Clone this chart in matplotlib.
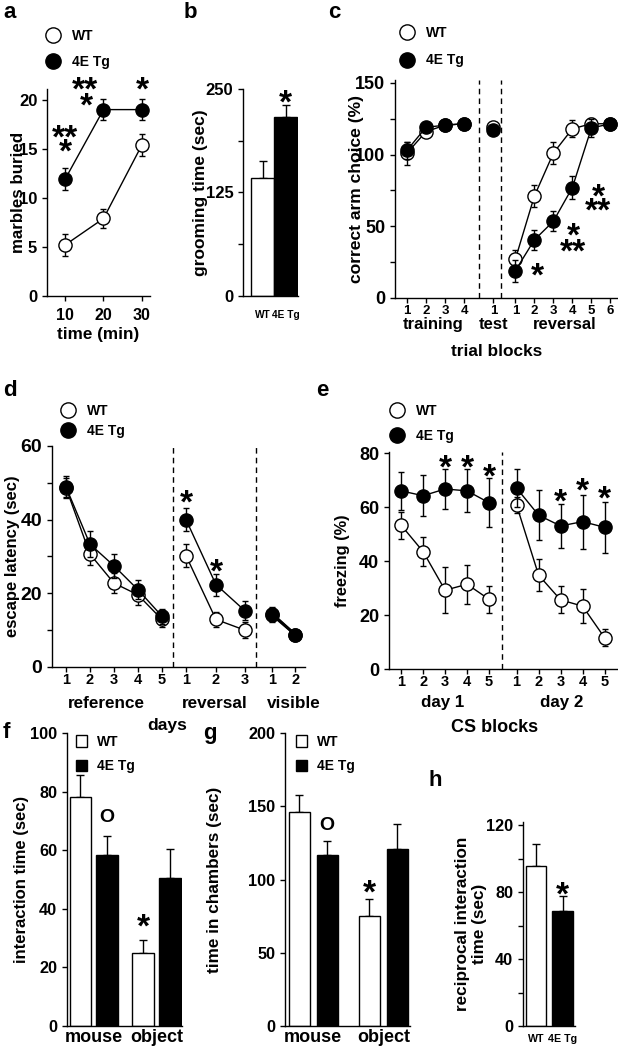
import matplotlib
matplotlib.use('Agg')
import matplotlib.pyplot as plt
from matplotlib.lines import Line2D
from matplotlib.patches import Patch
from matplotlib.ticker import MultipleLocator

plt.rcParams['font.family'] = ['Liberation Sans', 'DejaVu Sans']
plt.rcParams['font.weight'] = 'bold'
plt.rcParams['axes.labelweight'] = 'bold'
plt.rcParams['axes.linewidth'] = 1.0
for k in ('xtick', 'ytick'):
    plt.rcParams[k + '.major.size'] = 3.5
    plt.rcParams[k + '.minor.size'] = 3.5
    plt.rcParams[k + '.major.width'] = 1.0
    plt.rcParams[k + '.minor.width'] = 1.0

W, H = 618, 1050

# ---- data ----
# a: marble burying
a_time = [10, 20, 30]
a_wt = [5.2, 7.9, 15.4]
a_wt_err = [1.1, 1.0, 1.1]
a_tg = [11.9, 19.0, 19.0]
a_tg_err = [1.1, 1.1, 1.1]

# b: grooming
b_groups = ['WT', '4E Tg']
b_vals = [143, 216]
b_err = [20, 15]

# c: Y maze (training / test / reversal)
c_train_x = [1, 2, 3, 4]
c_test_x = [5.55]
c_rev_x = [6.7, 7.7, 8.7, 9.7, 10.7, 11.7]
c_train_ticks = ['1', '2', '3', '4']
c_test_ticks = ['1']
c_rev_ticks = ['1', '2', '3', '4', '5', '6']
c_wt_train = [101, 116, 120.5, 121.5]
c_wt_train_err = [8, 3, 2, 1.5]
c_tg_train = [103, 119, 120.5, 121.5]
c_tg_train_err = [6, 2, 2, 1.5]
c_wt_test = [119.5]
c_wt_test_err = [2]
c_tg_test = [117]
c_tg_test_err = [2]
c_wt_rev = [27, 71, 101, 118, 121.5, 121.5]
c_wt_rev_err = [6.5, 7.5, 7.5, 6, 4, 2]
c_tg_rev = [19, 40.5, 53.5, 77, 118.5, 121.5]
c_tg_rev_err = [7.5, 7, 7, 8, 6, 1.5]

# d: Morris water maze
d_ref_x = [1, 2, 3, 4, 5]
d_rev_x = [6, 7.25, 8.45]
d_vis_x = [9.6, 10.55]
d_ref_ticks = ['1', '2', '3', '4', '5']
d_rev_ticks = ['1', '2', '3']
d_vis_ticks = ['1', '2']
d_wt_ref = [48.7, 30.6, 22.7, 19.5, 12.8]
d_wt_ref_err = [2.5, 3, 2.7, 2.7, 2]
d_tg_ref = [48.9, 33.3, 27.4, 20.9, 13.7]
d_tg_ref_err = [3, 3.5, 3.3, 2.6, 2]
d_wt_rev = [30.2, 12.8, 9.9]
d_wt_rev_err = [3.2, 2, 2.2]
d_tg_rev = [40, 22.3, 15.2]
d_tg_rev_err = [3.2, 3, 2.5]
d_wt_vis = [14, 8.7]
d_wt_vis_err = [2, 1]
d_tg_vis = [14.3, 8.7]
d_tg_vis_err = [2, 1]

# e: fear conditioning
e_d1_x = [1, 2, 3, 4, 5]
e_d2_x = [6.25, 7.25, 8.25, 9.25, 10.25]
e_ticks = ['1', '2', '3', '4', '5']
e_wt_d1 = [53.3, 43.5, 29.2, 31.4, 25.8]
e_wt_d1_err = [5, 5.5, 8.5, 7.3, 5]
e_tg_d1 = [66, 64.2, 66.7, 66, 61.6]
e_tg_d1_err = [7, 7.5, 7.3, 8, 9]
e_wt_d2 = [60.7, 34.8, 25.6, 23.3, 11.6]
e_wt_d2_err = [3, 6, 5, 6.3, 3.2]
e_tg_d2 = [67, 57, 53, 54.6, 52.5]
e_tg_d2_err = [7, 9.3, 8.3, 10, 9.5]

# f, g: three chamber test
fg_groups = ['mouse', 'object']
f_wt = [78, 25]
f_wt_err = [7.5, 4.5]
f_tg = [58.5, 50.5]
f_tg_err = [6.5, 10]
g_wt = [146, 75]
g_wt_err = [12, 12]
g_tg = [117, 121]
g_tg_err = [9, 17]

# h: reciprocal interaction
h_groups = ['WT', '4E Tg']
h_vals = [95.4, 69]
h_err = [13.6, 8.6]

fig = plt.figure(figsize=(W / 100, H / 100), dpi=100)


def make_ax(x0, y0, x1, y1):
    ax = fig.add_axes([x0 / W, 1 - y1 / H, (x1 - x0) / W, (y1 - y0) / H])
    ax.spines[['top', 'right']].set_visible(False)
    ax.patch.set_alpha(0)
    ax._box = (x0, y0, x1, y1)
    return ax


def px2ax(ax, px, py):
    x0, y0, x1, y1 = ax._box
    return (px - x0) / (x1 - x0), (y1 - py) / (y1 - y0)


def series(ax, x, y, err, filled, lw=1.0):
    ax.errorbar(x, y, yerr=err, fmt='-o', color='black',
                mfc='black' if filled else 'white', mec='black', mew=1.0,
                ms=9.5, lw=lw, elinewidth=1, capsize=2.5, capthick=1,
                zorder=4 if filled else 3, clip_on=False)


def star(ax, x, y, s='*', fs=24):
    ax.annotate(s, xy=(x, y), xytext=(0, -0.57 * fs), textcoords='offset points',
                ha='center', va='baseline', fontsize=fs, fontweight='bold',
                annotation_clip=False)


def letter_o(ax, x, y, fs=14):
    ax.annotate('O', xy=(x, y), ha='center', va='center', fontsize=fs,
                fontweight='bold', annotation_clip=False)


def under(ax, x, dy, s, fs):
    ax.annotate(s, xy=(x, 0), xycoords=('data', 'axes fraction'),
                xytext=(0, -dy * 0.72), textcoords='offset points',
                ha='center', va='center', fontsize=fs, fontweight='bold',
                annotation_clip=False)


def ylab(ax, text, px, fs):
    ax.set_ylabel(text, fontsize=fs, fontweight='bold', va='center', ha='center')
    ax.yaxis.set_label_coords(px2ax(ax, px, 0)[0], 0.5)


def circle_legend(ax, px, py, spacing, fs=10):
    h = [Line2D([], [], marker='o', ls='none', mfc='white', mec='black', ms=11),
         Line2D([], [], marker='o', ls='none', mfc='black', mec='black', ms=11)]
    ax.legend(h, ['WT', '4E Tg'], loc='upper left', bbox_to_anchor=px2ax(ax, px, py),
              frameon=False, fontsize=fs, handlelength=1.0, handletextpad=0.9,
              labelspacing=spacing, borderpad=0, borderaxespad=0)


def box_legend(ax, px, py, fs=10):
    h = [Patch(fc='white', ec='black', lw=1), Patch(fc='black', ec='black', lw=1)]
    ax.legend(h, ['WT', '4E Tg'], loc='upper left', bbox_to_anchor=px2ax(ax, px, py),
              frameon=False, fontsize=fs, handlelength=0.8, handleheight=0.9,
              handletextpad=0.7, labelspacing=0.75, borderpad=0, borderaxespad=0)


def panel(letter, px, py):
    fig.text(px / W, 1 - py / H, letter, fontsize=16, fontweight='bold',
             ha='left', va='center')


# ---- a ----
ax = make_ax(47, 89, 150, 296)
series(ax, a_time, a_wt, a_wt_err, False)
series(ax, a_time, a_tg, a_tg_err, True)
ax.set_xlim(5.3, 32.1)
ax.set_ylim(0, 21.1)
ax.set_xticks(a_time)
ax.set_yticks([0, 5, 10, 15, 20])
ax.tick_params(axis='y', labelsize=12)
ax.tick_params(axis='x', labelsize=11.5, pad=5)
ax.set_xlabel('time (min)', fontsize=12.3, fontweight='bold', labelpad=3)
ylab(ax, 'marbles buried', 19, 12.2)
circle_legend(ax, 46, 29, 0.83)
star(ax, 10, 17.1, '**')
star(ax, 10, 15.6)
star(ax, 15.2, 22.0, '**')
star(ax, 15.5, 20.3)
star(ax, 30, 22.0)
panel('a', 3, 12)

# ---- b ----
ax = make_ax(243, 89, 298, 296)
ax.bar([0, 1], b_vals, width=1.0, color=['white', 'black'], edgecolor='black', lw=1, zorder=2)
ax.errorbar([0, 1], b_vals, yerr=[[0, 0], b_err], fmt='none', ecolor='black',
            elinewidth=1, capsize=3, capthick=1, zorder=1)
ax.set_xlim(-0.85, 1.54)
ax.set_ylim(0, 250)
ax.set_yticks([0, 125, 250])
ax.yaxis.set_minor_locator(MultipleLocator(62.5))
ax.set_xticks([0, 1])
ax.set_xticklabels(b_groups)
ax.tick_params(axis='x', length=0, labelsize=7.3, pad=10)
ax.tick_params(axis='y', labelsize=12)
ylab(ax, 'grooming time (sec)', 200, 12.5)
star(ax, 1, 245)
panel('b', 184, 12)

# ---- c ----
ax = make_ax(395, 80, 618, 298)
series(ax, c_train_x, c_wt_train, c_wt_train_err, False)
series(ax, c_train_x, c_tg_train, c_tg_train_err, True)
series(ax, c_test_x, c_wt_test, c_wt_test_err, False)
series(ax, c_test_x, c_tg_test, c_tg_test_err, True)
series(ax, c_rev_x, c_wt_rev, c_wt_rev_err, False)
series(ax, c_rev_x, c_tg_rev, c_tg_rev_err, True)
for xd in (4.8, 5.95):
    ax.axvline(xd, color='black', ls=(0, (4, 3)), lw=1)
ax.set_xlim(0.37, 12.1)
ax.set_ylim(0, 152)
ax.set_yticks([0, 50, 100, 150])
ax.yaxis.set_minor_locator(MultipleLocator(25))
ax.set_xticks(c_train_x + c_test_x + c_rev_x)
ax.set_xticklabels(c_train_ticks + c_test_ticks + c_rev_ticks)
ax.tick_params(axis='x', labelsize=9.5, pad=1.5)
ax.tick_params(axis='y', labelsize=13)
ylab(ax, 'correct arm choice (%)', 357, 12.6)
under(ax, 2.35, 27, 'training', 12)
under(ax, c_test_x[0], 27, 'test', 12)
under(ax, 9.3, 27, 'reversal', 12)
under(ax, 5.7, 54, 'trial blocks', 12.4)
circle_legend(ax, 400, 26, 0.97)
star(ax, 7.84, 21.6)
star(ax, 9.74, 49.5)
star(ax, 9.74, 38.4, '**')
star(ax, 11.05, 76.8)
star(ax, 11.05, 67, '**')
panel('c', 328, 12)

# ---- d ----
ax = make_ax(52, 446, 305, 666.5)
series(ax, d_ref_x, d_wt_ref, d_wt_ref_err, False)
series(ax, d_ref_x, d_tg_ref, d_tg_ref_err, True)
series(ax, d_rev_x, d_wt_rev, d_wt_rev_err, False)
series(ax, d_rev_x, d_tg_rev, d_tg_rev_err, True)
series(ax, d_vis_x, d_wt_vis, d_wt_vis_err, False, lw=2)
series(ax, d_vis_x, d_tg_vis, d_tg_vis_err, True, lw=2)
for xd in (5.46, 8.9):
    ax.axvline(xd, color='black', ls=(0, (4, 3)), lw=1)
ax.set_xlim(0.42, 10.96)
ax.set_ylim(0, 60)
ax.set_yticks([0, 20, 40, 60])
ax.yaxis.set_minor_locator(MultipleLocator(10))
ax.set_xticks(d_ref_x + d_rev_x + d_vis_x)
ax.set_xticklabels(d_ref_ticks + d_rev_ticks + d_vis_ticks)
ax.tick_params(axis='x', labelsize=10.5, pad=1)
ax.tick_params(axis='y', labelsize=14)
ylab(ax, 'escape latency (sec)', 13, 12)
under(ax, 2.7, 37, 'reference', 12.3)
under(ax, 7.2, 37, 'reversal', 12.3)
under(ax, 10.5, 37, 'visible', 12.3)
under(ax, 5.2, 59, 'days', 12.6)
circle_legend(ax, 61, 404, 0.4)
star(ax, d_rev_x[0], 47.1)
star(ax, d_rev_x[1], 28.4)
panel('d', 3, 391)

# ---- e ----
ax = make_ax(389, 452, 618, 669)
series(ax, e_d1_x, e_wt_d1, e_wt_d1_err, False)
series(ax, e_d1_x, e_tg_d1, e_tg_d1_err, True)
series(ax, e_d2_x, e_wt_d2, e_wt_d2_err, False)
series(ax, e_d2_x, e_tg_d2, e_tg_d2_err, True)
ax.axvline(5.6, color='black', ls=(0, (4, 3)), lw=1)
ax.set_xlim(0.45, 10.86)
ax.set_ylim(0, 80.4)
ax.set_yticks([0, 20, 40, 60, 80])
ax.set_xticks(e_d1_x + e_d2_x)
ax.set_xticklabels(e_ticks + e_ticks)
ax.tick_params(axis='x', labelsize=10.5, pad=1)
ax.tick_params(axis='y', labelsize=13)
ylab(ax, 'freezing (%)', 342, 11.8)
under(ax, 2.9, 34, 'day 1', 12.2)
under(ax, 8.3, 34, 'day 2', 12.2)
under(ax, 5.27, 59, 'CS blocks', 13)
circle_legend(ax, 390, 404, 0.76)
for xs, ys in zip(e_d1_x[2:], [78.1, 78.1, 74.8]):
    star(ax, xs, ys)
for xs, ys in zip(e_d2_x[2:], [65.2, 69.3, 66.3]):
    star(ax, xs, ys)
panel('e', 316, 391)


# ---- f, g ----
def chamber(ax, wt, wt_err, tg, tg_err, off, width):
    xs = [0, 1]
    xw = [x - off for x in xs]
    xt = [x + off for x in xs]
    ax.bar(xw, wt, width=width, color='white', edgecolor='black', lw=1, zorder=2)
    ax.bar(xt, tg, width=width, color='black', edgecolor='black', lw=1, zorder=2)
    ax.errorbar(xw, wt, yerr=[[0, 0], wt_err], fmt='none', ecolor='black',
                elinewidth=1, capsize=3, capthick=1, zorder=1)
    ax.errorbar(xt, tg, yerr=[[0, 0], tg_err], fmt='none', ecolor='black',
                elinewidth=1, capsize=3, capthick=1, zorder=1)
    ax.set_xticks(xs)
    ax.set_xticklabels(fg_groups)
    ax.tick_params(axis='x', length=0, labelsize=13, pad=2)
    ax.tick_params(axis='y', labelsize=11.7)
    return xw, xt


ax = make_ax(67, 733, 182, 1026)
xw, xt = chamber(ax, f_wt, f_wt_err, f_tg, f_tg_err, 0.215, 0.35)
ax.set_xlim(-0.43, 1.41)
ax.set_ylim(0, 100)
ax.set_yticks([0, 20, 40, 60, 80, 100])
ylab(ax, 'interaction time (sec)', 22, 12)
box_legend(ax, 76, 735)
letter_o(ax, xt[0], 71)
star(ax, xw[1], 37)
panel('f', 3, 733)

ax = make_ax(285, 733, 410, 1026)
xw, xt = chamber(ax, g_wt, g_wt_err, g_tg, g_tg_err, 0.2, 0.3)
ax.set_xlim(-0.4, 1.38)
ax.set_ylim(0, 200)
ax.set_yticks([0, 50, 100, 150, 200])
ylab(ax, 'time in chambers (sec)', 214, 12.3)
box_legend(ax, 296, 735)
letter_o(ax, xt[0], 137)
star(ax, xw[1], 97)
panel('g', 203, 733)

# ---- h ----
ax = make_ax(523, 822, 575, 1026)
ax.bar([0, 1], h_vals, width=0.77, color=['white', 'black'], edgecolor='black', lw=1, zorder=2)
ax.errorbar([0, 1], h_vals, yerr=[[0, 0], h_err], fmt='none', ecolor='black',
            elinewidth=1, capsize=3, capthick=1, zorder=1)
ax.set_xlim(-0.49, 1.47)
ax.set_ylim(0, 122)
ax.set_yticks([0, 40, 80, 120])
ax.yaxis.set_minor_locator(MultipleLocator(20))
ax.set_xticks([0, 1])
ax.set_xticklabels(h_groups)
ax.tick_params(axis='x', length=0, labelsize=7.7, pad=6)
ax.tick_params(axis='y', labelsize=11.7)
ylab(ax, 'reciprocal interaction\ntime (sec)', 471, 12.3)
star(ax, 1, 84)
panel('h', 429, 780)

fig.savefig('out.png', dpi=100)
